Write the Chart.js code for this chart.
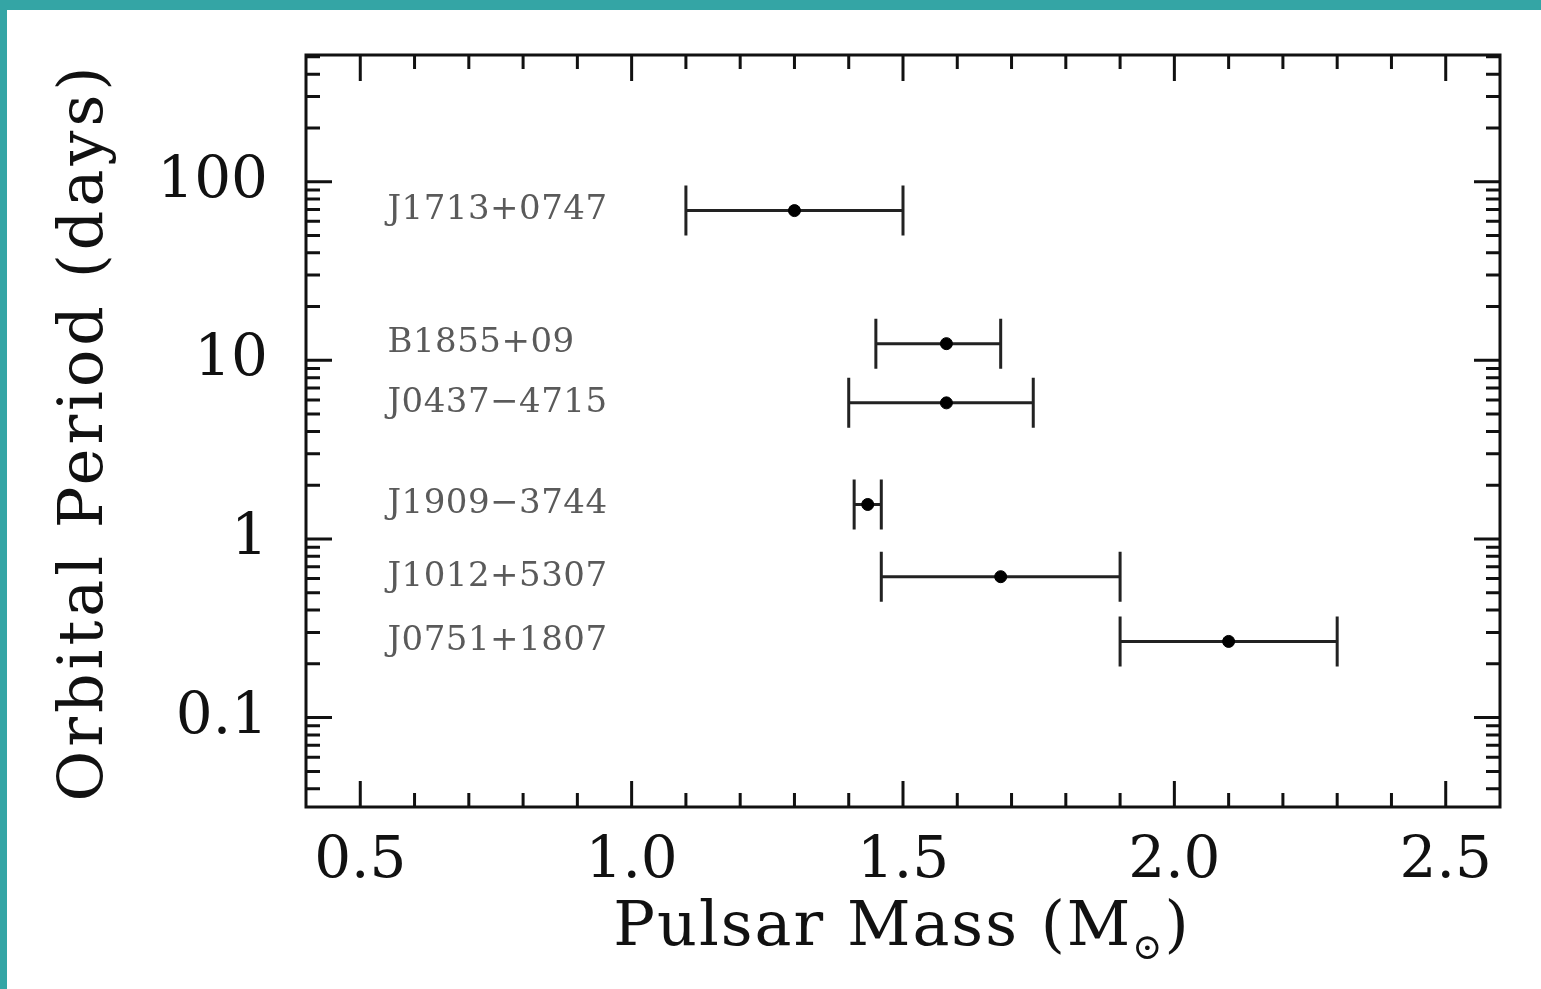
<!DOCTYPE html>
<html>
<head>
<meta charset="utf-8">
<script src="https://cdn.jsdelivr.net/npm/chart.js"></script>
<style>
  html, body { margin: 0; padding: 0; background: #fff; }
</style>
</head>
<body>
<canvas id="js-chart-canvas" width="1541" height="989"></canvas>
<script>
// pulsar mass vs orbital period (log scale)

const pulsarNames = ["J1713+0747", "B1855+09", "J0437\u22124715", "J1909\u22123744", "J1012+5307", "J0751+1807"];
const pulsarMass = [1.30, 1.58, 1.58, 1.435, 1.68, 2.10];
const massLow = [1.10, 1.45, 1.40, 1.41, 1.46, 1.90];
const massHigh = [1.50, 1.68, 1.74, 1.46, 1.90, 2.30];
const orbitalPeriod = [68.9, 12.4, 5.78, 1.56, 0.615, 0.267];

const xTickValues = [0.5, 1.0, 1.5, 2.0, 2.5];
const yTickValues = [0.1, 1, 10, 100];

const fontFamily = "'DejaVu Serif', 'Liberation Serif', serif";
const labelX = 0.55;

const canvasContext = document.querySelector("#js-chart-canvas").getContext("2d");

const points = pulsarMass.map((m, i) => ({ x: m, y: orbitalPeriod[i] }));

const frameDraw = {
  id: "frameDraw",

  beforeDraw(chart) {
    const { ctx, width, height } = chart;
    ctx.save();
    ctx.fillStyle = "#ffffff";
    ctx.fillRect(0, 0, width, height);
    ctx.fillStyle = "#34a5a5";
    ctx.fillRect(0, 0, width, 10);
    ctx.fillRect(0, 0, 7, height);
    ctx.restore();
  },

  beforeDatasetsDraw(chart) {
    const { ctx, scales: { x, y } } = chart;
    ctx.save();

    // error bars
    ctx.strokeStyle = "#222";
    ctx.lineWidth = 3;
    pulsarMass.forEach((m, i) => {
      const py = y.getPixelForValue(orbitalPeriod[i]);
      const x0 = x.getPixelForValue(massLow[i]);
      const x1 = x.getPixelForValue(massHigh[i]);
      ctx.beginPath();
      ctx.moveTo(x0, py);
      ctx.lineTo(x1, py);
      ctx.moveTo(x0, py - 25);
      ctx.lineTo(x0, py + 25);
      ctx.moveTo(x1, py - 25);
      ctx.lineTo(x1, py + 25);
      ctx.stroke();
    });

    // pulsar names
    ctx.fillStyle = "#5a5a5a";
    ctx.font = "34px " + fontFamily;
    ctx.letterSpacing = "0.5px";
    ctx.textAlign = "left";
    ctx.textBaseline = "middle";
    pulsarNames.forEach((name, i) => {
      ctx.fillText(name, x.getPixelForValue(labelX), y.getPixelForValue(orbitalPeriod[i]));
    });

    ctx.restore();
  },

  afterDraw(chart) {
    const {
      ctx,
      chartArea: { top, bottom, left, right },
      scales: { x, y },
    } = chart;
    ctx.save();
    ctx.strokeStyle = "#111";
    ctx.lineWidth = 3;

    // x ticks, top and bottom, pointing inward
    ctx.beginPath();
    for (let k = 5; k <= 25; k++) {
      const v = k / 10;
      const px = x.getPixelForValue(v);
      const len = k % 5 === 0 ? 26 : 14;
      ctx.moveTo(px, bottom);
      ctx.lineTo(px, bottom - len);
      ctx.moveTo(px, top);
      ctx.lineTo(px, top + len);
    }

    // y ticks, left and right
    for (let e = -2; e <= 2; e++) {
      for (let k = 1; k <= 9; k++) {
        const v = k * Math.pow(10, e);
        if (v <= y.min || v >= y.max) continue;
        const py = y.getPixelForValue(v);
        const len = k === 1 ? 26 : 14;
        ctx.moveTo(left, py);
        ctx.lineTo(left + len, py);
        ctx.moveTo(right, py);
        ctx.lineTo(right - len, py);
      }
    }
    ctx.stroke();

    // frame
    ctx.strokeRect(left, top, right - left, bottom - top);

    // axis titles
    ctx.fillStyle = "#111";
    ctx.letterSpacing = "2px";
    ctx.font = "62px " + fontFamily;
    ctx.textBaseline = "alphabetic";
    const xt = "Pulsar Mass (M";
    const wMain = ctx.measureText(xt).width;
    ctx.font = "36px " + fontFamily;
    const wSun = ctx.measureText("\u2299").width;
    ctx.font = "62px " + fontFamily;
    const wClose = ctx.measureText(")").width;
    let tx = 902 - (wMain + wSun + wClose) / 2;
    const ty = 945;
    ctx.textAlign = "left";
    ctx.fillText(xt, tx, ty);
    tx += wMain;
    ctx.font = "36px " + fontFamily;
    ctx.fillText("\u2299", tx, ty + 14);
    tx += wSun;
    ctx.font = "62px " + fontFamily;
    ctx.fillText(")", tx, ty);

    ctx.letterSpacing = "4px";
    ctx.translate(86, 432);
    ctx.rotate(-Math.PI / 2);
    ctx.textAlign = "center";
    ctx.textBaseline = "middle";
    ctx.fillText("Orbital Period (days)", 0, 0);

    ctx.restore();
  },
};

const config = {
  type: "scatter",
  data: {
    datasets: [
      {
        label: "pulsars",
        data: points,
        backgroundColor: "#000",
        borderColor: "#000",
        pointRadius: 6,
        pointHoverRadius: 6,
      },
    ],
  },
  options: {
    responsive: false,
    animation: false,
    events: [],
    layout: { padding: { top: 55, right: 41, left: 0, bottom: 0 } },
    plugins: {
      legend: { display: false },
      tooltip: { enabled: false },
    },
    scales: {
      x: {
        type: "linear",
        min: 0.4,
        max: 2.6,
        grid: { display: false, drawTicks: false },
        border: { display: false },
        afterBuildTicks(scale) {
          scale.ticks = xTickValues.map((v) => ({ value: v }));
        },
        afterFit(scale) {
          scale.height = 182;
          scale.paddingLeft = 0;
          scale.paddingRight = 0;
        },
        ticks: {
          font: { family: fontFamily, size: 58 },
          color: "#111",
          padding: 20,
          maxRotation: 0,
          autoSkip: false,
          callback: (v) => Number(v).toFixed(1),
        },
      },
      y: {
        type: "logarithmic",
        min: 0.0316,
        max: 512,
        grid: { display: false, drawTicks: false },
        border: { display: false },
        afterBuildTicks(scale) {
          scale.ticks = yTickValues.map((v) => ({ value: v }));
        },
        afterFit(scale) {
          scale.width = 306;
          scale.paddingTop = 0;
          scale.paddingBottom = 0;
        },
        ticks: {
          font: { family: fontFamily, size: 58 },
          color: "#111",
          padding: 38,
          autoSkip: false,
          callback: (v) => String(v),
        },
      },
    },
  },
  plugins: [frameDraw],
};

const massChart = new Chart(canvasContext, config);
</script>
</body>
</html>
